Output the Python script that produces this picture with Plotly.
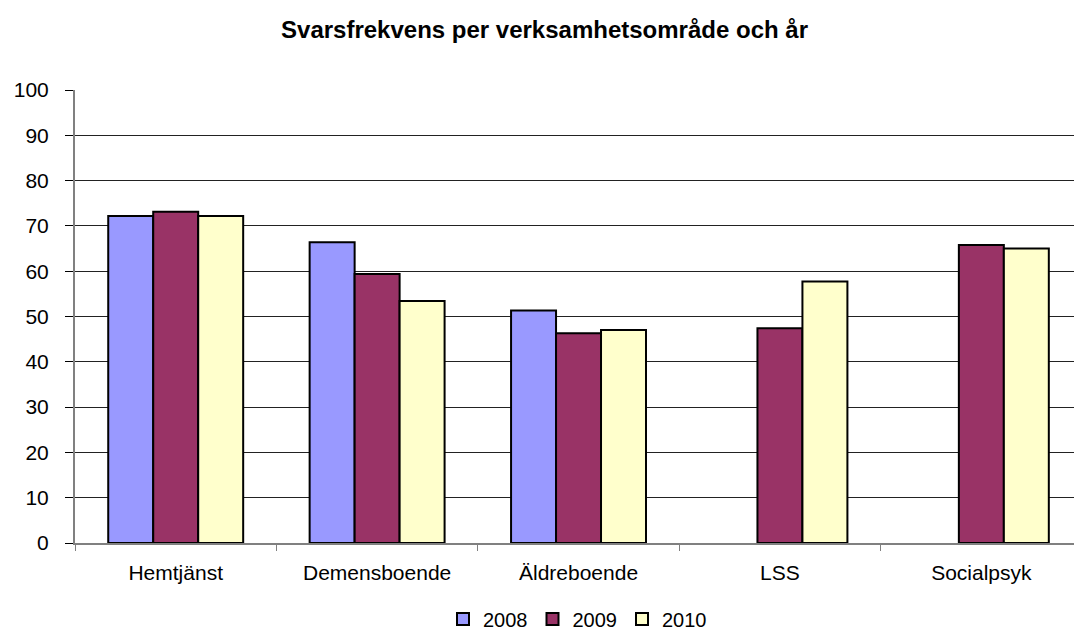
import plotly.graph_objects as go

categories = ["Hemtjänst", "Demensboende", "Äldreboende", "LSS", "Socialpsyk"]
years = ["2008", "2009", "2010"]
values_2008 = [72.2, 66.4, 51.3, None, None]
values_2009 = [73.1, 59.4, 46.3, 47.4, 65.8]
values_2010 = [72.2, 53.4, 47.0, 57.7, 65.0]
colors = ["#9999FF", "#993366", "#FFFFCC"]
y_ticks = [0, 10, 20, 30, 40, 50, 60, 70, 80, 90, 100]

FONT = "Liberation Sans, Arial, sans-serif"

fig = go.Figure()
for name, vals, col in zip(years, [values_2008, values_2009, values_2010], colors):
    fig.add_trace(go.Bar(
        x=categories, y=vals, name=name,
        marker=dict(color=col, line=dict(color="#000000", width=2)),
    ))

fig.update_layout(
    width=1074, height=633,
    paper_bgcolor="white", plot_bgcolor="white",
    barmode="group", bargap=0.33, bargroupgap=0,
    margin=dict(l=75, r=0, t=90, b=90, autoexpand=False),
    font=dict(family=FONT, size=21, color="#000000"),
    title=dict(
        text="<b>Svarsfrekvens per verksamhetsområde och år</b>",
        x=0.507, xref="container", xanchor="center",
        y=0.953, yref="container", yanchor="middle",
        font=dict(family=FONT, size=24, color="#000000"),
    ),
    legend=dict(
        orientation="h", x=0.503, xanchor="center", y=-0.168, yanchor="middle",
        font=dict(family=FONT, size=20), itemwidth=30, traceorder="normal",
    ),
    showlegend=True,
)

fig.update_xaxes(
    range=[-0.5, 4.46], automargin=False,
    showline=True, linecolor="#808080", linewidth=2,
    ticks="outside", tickson="boundaries", ticklen=6, tickcolor="#808080", tickwidth=1,
    showgrid=False, ticklabelstandoff=10,
    tickfont=dict(family=FONT, size=21),
)
fig.update_yaxes(
    range=[0, 100], tickvals=y_ticks, automargin=False,
    showline=True, linecolor="#808080", linewidth=2,
    ticks="outside", ticklen=8, tickcolor="#000000", tickwidth=1,
    showgrid=True, gridcolor="#222222", gridwidth=1,
    zeroline=False, ticklabelstandoff=12,
    tickfont=dict(family=FONT, size=21),
)

fig.write_html(
    "out.html",
    config={"displayModeBar": False},
    post_script="document.body.style.margin='0';document.body.style.overflow='hidden';",
)
